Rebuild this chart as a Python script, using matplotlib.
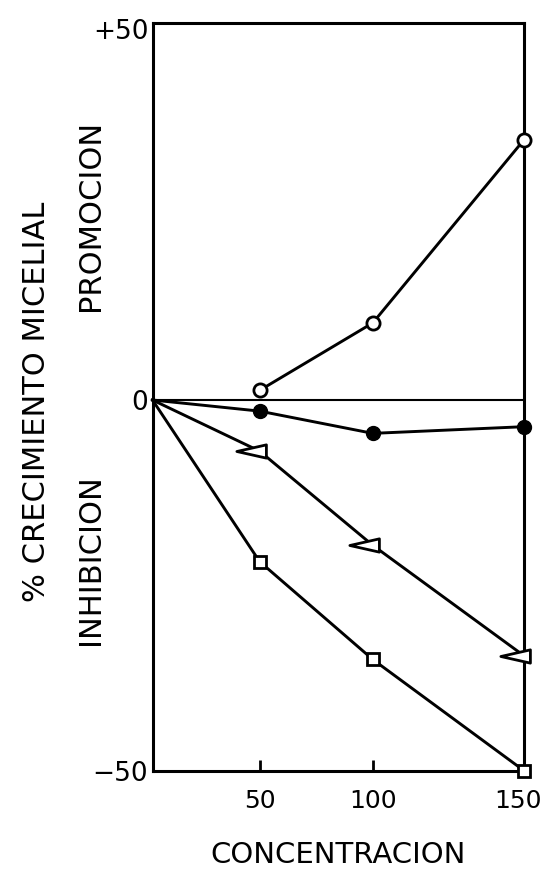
import numpy as np
import matplotlib
matplotlib.use("Agg")
import matplotlib.pyplot as plt
import matplotlib.transforms as mtransforms
from matplotlib.path import Path

# Concentrations and growth response (% mycelial growth vs control)
conc_open = [50, 100, 150]
growth_open = [1.3, 10.4, 35.1]

conc_filled = [0, 50, 100, 150]
growth_filled = [0, -1.5, -4.5, -3.6]

conc_tri = [0, 50, 100, 150]
growth_tri = [0, -6.9, -19.6, -34.5]

conc_sq = [0, 50, 100, 150]
growth_sq = [0, -21.8, -35.0, -50.0]

xticks = [50, 100, 150]
xtick_labels = ["50", "100", "150"]
yticks = [-50, 0, 50]
ytick_labels = ["\u221250", "0", "+50"]

# The hand-ruled concentration axis is not evenly spaced: piecewise-linear scale
_knots_data = np.array([0.0, 50.0, 100.0, 150.0])
_knots_axis = np.array([0.0, 107.0, 220.0, 371.0])


def _fwd(x):
    return np.interp(np.asarray(x, dtype=float), _knots_data, _knots_axis)


def _inv(y):
    return np.interp(np.asarray(y, dtype=float), _knots_axis, _knots_data)


plt.rcParams["font.family"] = ["DejaVu Sans"]

fig = plt.figure(figsize=(5.46, 8.80), dpi=100)
ax = fig.add_axes([152.5 / 546, 1 - 770.7 / 880, (524 - 152.5) / 546, (770.7 - 23) / 880])
ax.set_xscale("function", functions=(_fwd, _inv))
ax.set_xlim(0, 150)
ax.set_ylim(-50, 50.85)

lw = 2.1
ax.axhline(0, color="black", lw=1.5, zorder=1)

ax.plot(conc_sq, growth_sq, color="black", lw=lw, marker="s", ms=8,
        mfc="white", mec="black", mew=2, markevery=[1, 2, 3], zorder=3,
        clip_on=False)

# elongated left-pointing triangle
tri_marker = Path([(-1.6, 0.0), (0.4, 0.45), (0.4, -0.45), (-1.6, 0.0)],
                  [Path.MOVETO, Path.LINETO, Path.LINETO, Path.CLOSEPOLY])
ax.plot(conc_tri, growth_tri, color="black", lw=lw, marker=tri_marker, ms=34,
        mfc="white", mec="black", mew=2, markevery=[1, 2, 3], zorder=3,
        clip_on=False)

ax.plot(conc_filled, growth_filled, color="black", lw=lw, marker="o", ms=10,
        mfc="black", mec="black", markevery=[1, 2, 3], zorder=3, clip_on=False)

ax.plot(conc_open, growth_open, color="black", lw=lw, marker="o", ms=9.5,
        mfc="white", mec="black", mew=2, zorder=4, clip_on=False)

for s in ax.spines.values():
    s.set_linewidth(2.2)

ax.set_xticks(xticks)
ax.set_xticklabels(xtick_labels)
ax.set_yticks(yticks)
ax.set_yticklabels(ytick_labels)
ax.tick_params(axis="x", direction="in", length=8, width=2, labelsize=18,
               pad=13, top=False)
ax.tick_params(axis="y", length=0, labelsize=19, pad=3)

# keep the last concentration label inside the figure
last = ax.get_xticklabels()[-1]
last.set_transform(last.get_transform()
                   + mtransforms.ScaledTranslation(-0.06, 0, fig.dpi_scale_trans))

ax.set_xlabel("CONCENTRACION", fontsize=21, labelpad=20)

fig.text(37 / 546, 1 - 402 / 880, "% CRECIMIENTO MICELIAL", rotation=90,
         ha="center", va="center", fontsize=22)
fig.text(91 / 546, 1 - 215 / 880, "PROMOCION", rotation=90,
         ha="center", va="center", fontsize=22)
fig.text(91 / 546, 1 - 560 / 880, "INHIBICION", rotation=90,
         ha="center", va="center", fontsize=22)

fig.savefig("out.png", dpi=100)
